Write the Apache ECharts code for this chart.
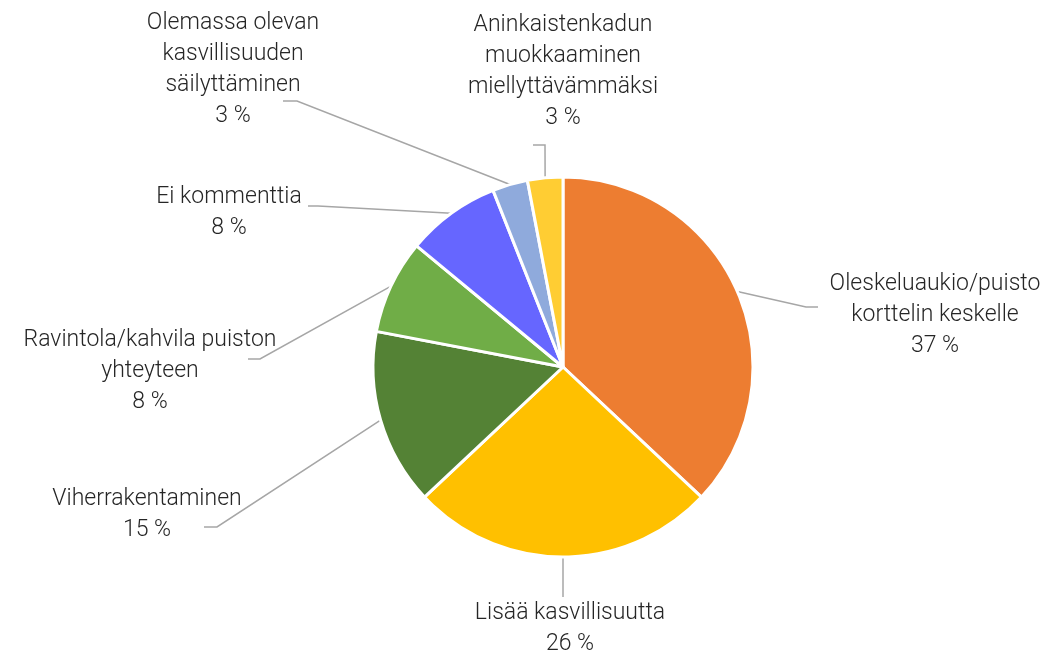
<!DOCTYPE html>
<html>
<head>
<meta charset="utf-8">
<script src="https://cdn.jsdelivr.net/npm/echarts@6/dist/echarts.min.js"></script>
<style>
  html, body { margin: 0; padding: 0; background: #fff; }
  #chart { width: 1052px; height: 661px; }
</style>
</head>
<body>
<div id="chart"></div>
<script>
// categories (line breaks as in the original labels)
var categories = [
  'Oleskeluaukio/puisto\nkorttelin keskelle',
  'Lisää kasvillisuutta',
  'Viherrakentaminen',
  'Ravintola/kahvila puiston\nyhteyteen',
  'Ei kommenttia',
  'Olemassa olevan\nkasvillisuuden\nsäilyttäminen',
  'Aninkaistenkadun\nmuokkaaminen\nmiellyttävämmäksi'
];
var shares = [37, 26, 15, 8, 8, 3, 3];
var sliceColors = ['#ED7D31', '#FFC000', '#548235', '#70AD47', '#6666FF', '#8FAADC', '#FFCD33'];

// where each label sits and where its leader line bends
var labelSpots = [
  { x: 935, y: 315, bend: [806, 307], end: [818, 307] },
  { x: 570, y: 629, bend: [563, 596], end: [563, 597] },
  { x: 147, y: 515, bend: [217, 527], end: [204, 527] },
  { x: 150, y: 371, bend: [260, 359], end: [248, 359] },
  { x: 229, y: 213, bend: [318, 206], end: [308, 206] },
  { x: 233, y: 70,  bend: [297, 101], end: [283, 101] },
  { x: 563, y: 72,  bend: [545, 145], end: [533, 145] }
];

var chart = echarts.init(document.getElementById('chart'));
var data = categories.map(function (c, i) {
  return { name: c, value: shares[i], itemStyle: { color: sliceColors[i] } };
});

chart.setOption({
  backgroundColor: '#ffffff',
  animation: false,
  series: [{
    type: 'pie',
    center: [563, 367],
    radius: 190,
    startAngle: 90,
    clockwise: true,
    avoidLabelOverlap: false,
    data: data,
    itemStyle: { borderColor: '#ffffff', borderWidth: 3 },
    label: {
      show: true,
      position: 'outside',
      fontFamily: 'Roboto',
      fontWeight: 300,
      fontSize: 23,
      lineHeight: 31,
      color: '#262626',
      align: 'center',
      formatter: function (p) {
        return p.name + '\n' + Math.round(p.percent) + ' %';
      }
    },
    labelLine: {
      show: true,
      length: 20,
      length2: 10,
      lineStyle: { color: '#A6A6A6', width: 1.5 }
    },
    labelLayout: function (params) {
      var s = labelSpots[params.dataIndex];
      var start = params.labelLinePoints ? params.labelLinePoints[0] : s.bend;
      return {
        x: s.x,
        y: s.y,
        align: 'center',
        verticalAlign: 'middle',
        labelLinePoints: [start, s.bend, s.end]
      };
    }
  }]
});
</script>
</body>
</html>
